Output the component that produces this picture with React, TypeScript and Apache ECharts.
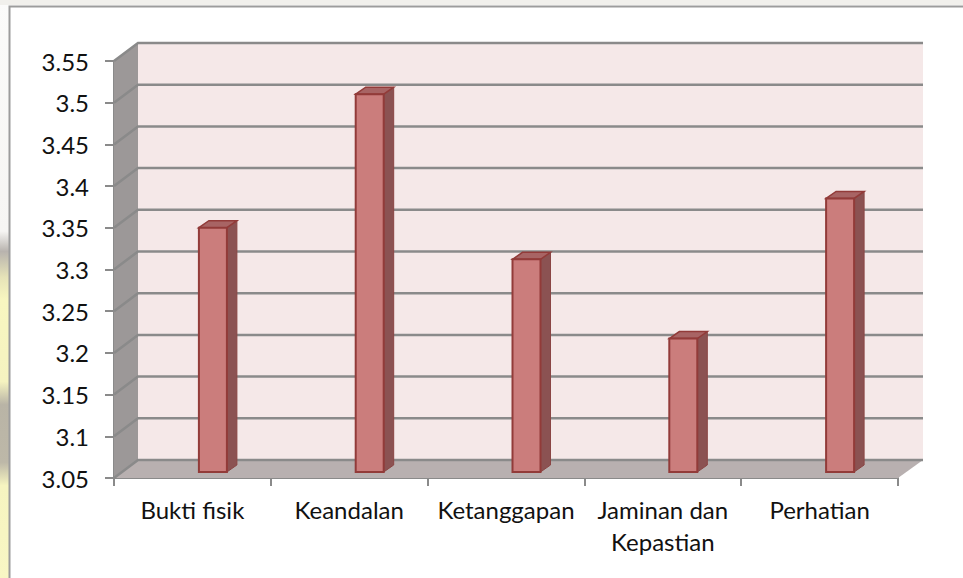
import React, { useEffect, useRef } from "react";
import * as echarts from "echarts";

const categories = ["Bukti fisik", "Keandalan", "Ketanggapan", "Jaminan dan\nKepastian", "Perhatian"];
const values = [3.343, 3.503, 3.305, 3.21, 3.378];
const axisMin = 3.05;
const axisMax = 3.55;
const axisStep = 0.05;
const gridTicks = [3.05, 3.1, 3.15, 3.2, 3.25, 3.3, 3.35, 3.4, 3.45, 3.5, 3.55];

const DEPTH_X = 24;
const DEPTH_Y = 18;
const FONT = "Lato, Carlito, 'Noto Sans', sans-serif";
const GRID_COLOR = "#8a8a8a";

function renderWall(params: any, api: any) {
  const v = api.value(1);
  const p = api.coord([0, v]);
  const cs = params.coordSys;
  const x0 = cs.x;
  const x1 = cs.x + cs.width;
  const children: any[] = [];
  if (params.dataIndex === 0) {
    const top = cs.y;
    const bot = cs.y + cs.height;
    children.push({
      type: "rect",
      shape: { x: x0 + DEPTH_X, y: top - DEPTH_Y, width: cs.width + 1, height: cs.height },
      style: { fill: "#f5e8e8" },
    });
    children.push({
      type: "polygon",
      shape: { points: [[x0, top], [x0 + DEPTH_X, top - DEPTH_Y], [x0 + DEPTH_X, bot - DEPTH_Y], [x0, bot]] },
      style: { fill: "#9c9898" },
    });
    children.push({
      type: "polygon",
      shape: { points: [[x0, bot], [x1, bot], [x1 + DEPTH_X + 1, bot - DEPTH_Y], [x0 + DEPTH_X, bot - DEPTH_Y]] },
      style: { fill: "#b8b0b0" },
    });
  }
  const lineStyle = { stroke: GRID_COLOR, lineWidth: 2.5, fill: "none" };
  children.push({
    type: "polyline",
    shape: { points: [[x0, p[1]], [x0 + DEPTH_X, p[1] - DEPTH_Y], [x1 + DEPTH_X + 1, p[1] - DEPTH_Y]] },
    style: lineStyle,
  });
  return { type: "group", children };
}

function renderBar(_params: any, api: any) {
  const lift = 6;
  const w = 28;
  const dx = 10;
  const dy = 7;
  const top = api.coord([api.value(0), api.value(1)]);
  const base = api.coord([api.value(0), axisMin]);
  const cx = top[0] + 20.5;
  const l = cx - w / 2;
  const r = cx + w / 2;
  const t = top[1] - lift;
  const b = base[1] - lift;
  const stroke = "#923b39";
  return {
    type: "group",
    children: [
      {
        type: "polygon",
        shape: { points: [[r, t], [r + dx, t - dy], [r + dx, b - dy], [r, b]] },
        style: { fill: "#8b5252", stroke: "#8a4544", lineWidth: 1 },
      },
      {
        type: "polygon",
        shape: { points: [[l, t], [l + dx, t - dy], [r + dx, t - dy], [r, t]] },
        style: { fill: "#a86464", stroke, lineWidth: 1.5 },
      },
      {
        type: "rect",
        shape: { x: l, y: t, width: w, height: b - t },
        style: { fill: "#cb7d7c", stroke, lineWidth: 2 },
      },
    ],
  };
}

export default function App() {
  const ref = useRef<HTMLDivElement>(null);
  useEffect(() => {
    document.body.style.margin = "0";
    const chart = echarts.init(ref.current!, null, { renderer: "svg" });
    chart.setOption({
      animation: false,
      backgroundColor: "#ffffff",
      graphic: [
        {
          type: "rect",
          z: -1,
          shape: { x: 0, y: 0, width: 9, height: 578 },
          style: {
            fill: new echarts.graphic.LinearGradient(0, 0, 0, 1, [
              { offset: 0, color: "#fbfbfa" },
              { offset: 0.4, color: "#f6f5f3" },
              { offset: 0.435, color: "#b8b3ae" },
              { offset: 0.48, color: "#e6e3b8" },
              { offset: 0.52, color: "#f8f6c0" },
              { offset: 0.66, color: "#f5f3c0" },
              { offset: 0.7, color: "#b9b4a6" },
              { offset: 0.8, color: "#bdb8a8" },
              { offset: 0.84, color: "#f6f4c0" },
              { offset: 1, color: "#f8f6c4" },
            ]),
          },
        },
        {
          type: "rect",
          z: -1,
          shape: { x: 0, y: 0, width: 963, height: 5 },
          style: { fill: "#f1f0ec" },
        },
        {
          type: "polyline",
          z: -1,
          shape: { points: [[9.5, 578], [9.5, 6.5], [963, 6.5]] },
          style: { stroke: "#9c9c9c", lineWidth: 2, fill: "none" },
        },
      ],
      grid: { left: 114, top: 61, width: 784, height: 417, containLabel: false },
      xAxis: {
        type: "category",
        data: categories,
        axisLine: { show: true, lineStyle: { color: GRID_COLOR, width: 2 } },
        axisTick: { show: true, alignWithLabel: false, length: 8, lineStyle: { color: GRID_COLOR, width: 2 } },
        axisLabel: {
          interval: 0,
          color: "#111111",
          fontFamily: FONT,
          fontSize: 24,
          lineHeight: 32,
          margin: 15,
          hideOverlap: false,
        },
        splitLine: { show: false },
      },
      yAxis: {
        type: "value",
        min: axisMin,
        max: axisMax,
        interval: axisStep,
        axisLine: { show: true, lineStyle: { color: GRID_COLOR, width: 2 } },
        axisTick: { show: true, length: 9, lineStyle: { color: GRID_COLOR, width: 2 } },
        axisLabel: {
          color: "#111111",
          fontFamily: FONT,
          fontSize: 24,
          margin: 25,
          formatter: (v: number) => String(Number(v.toFixed(2))),
        },
        splitLine: { show: false },
      },
      series: [
        {
          type: "custom",
          renderItem: renderWall,
          clip: false,
          silent: true,
          encode: { x: 0, y: 1 },
          data: gridTicks.map((v) => [0, v]),
          z: 1,
        },
        {
          type: "custom",
          renderItem: renderBar,
          clip: false,
          encode: { x: 0, y: 1 },
          data: values.map((v, i) => [i, v]),
          z: 3,
        },
      ],
    });
    return () => chart.dispose();
  }, []);
  return <div ref={ref} style={{ position: "fixed", left: 0, top: 0, width: 963, height: 578 }} />;
}
